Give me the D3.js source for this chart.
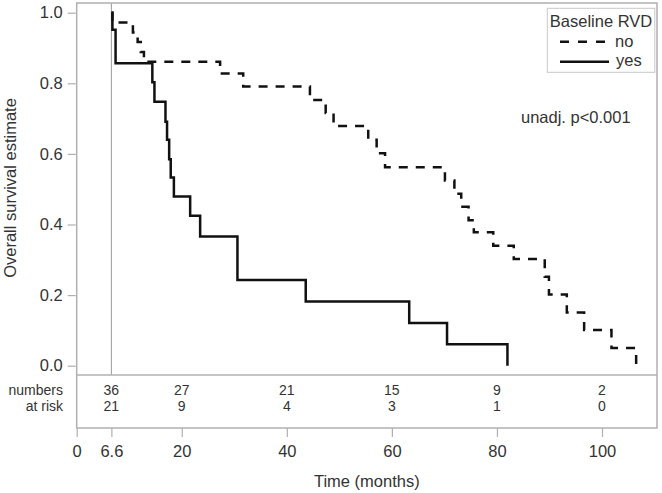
<!DOCTYPE html>
<html>
<head>
<meta charset="utf-8">
<script src="https://cdn.jsdelivr.net/npm/d3@7"></script>
<style>
  html, body { margin: 0; padding: 0; background: #fff; }
  svg { display: block; }
  text { font-family: "Liberation Sans", Arial, sans-serif; fill: #333; }
</style>
</head>
<body>
<script>
// ---- Data ----
const groups = ["no", "yes"];
const noTimes = [6.6, 6.8, 10.7, 11.6, 12.2, 12.8, 27.3, 31.7, 44.4, 47.4, 48.9, 55.5, 57.1, 58.7, 70.1, 71.9, 73.2, 74.6, 75.6, 79.3, 83.2, 89.1, 89.9, 93.3, 96.6, 101.8, 106.5];
const noSurv  = [1.0, 0.972, 0.944, 0.917, 0.889, 0.861, 0.828, 0.791, 0.753, 0.716, 0.679, 0.640, 0.602, 0.562, 0.525, 0.487, 0.450, 0.412, 0.378, 0.340, 0.302, 0.252, 0.202, 0.151, 0.101, 0.050, 0.0];
const yesTimes = [6.6, 6.8, 7.4, 14.4, 14.8, 16.9, 17.2, 17.6, 17.9, 18.5, 21.6, 23.5, 30.6, 43.6, 63.3, 70.5, 82.0];
const yesSurv  = [1.0, 0.952, 0.857, 0.803, 0.748, 0.691, 0.640, 0.585, 0.533, 0.479, 0.425, 0.366, 0.243, 0.182, 0.121, 0.061, 0.0];
const riskTimes = [6.6, 20, 40, 60, 80, 100];
const riskNo  = [36, 27, 21, 15, 9, 2];
const riskYes = [21, 9, 4, 3, 1, 0];
const xTicks = [0, 6.6, 20, 40, 60, 80, 100];
const yTicks = [0, 0.2, 0.4, 0.6, 0.8, 1.0];
const landmark = 6.6;

(function () {
// ---- Layout ----
const W = 662, H = 493;
const pLeft = 76.7, pRight = 657, pTop = 3, mainBottom = 375, riskBottom = 428;

const svg = d3.select("body").append("svg").attr("width", W).attr("height", H);

const x = d3.scaleLinear().domain([0, 110.5]).range([pLeft, pLeft + 5.253 * 110.5]);
const y = d3.scaleLinear().domain([0, 1]).range([365.7, 12.7]);

const frameColor = "#b0b0b0";

// reference line at landmark
svg.append("line")
  .attr("x1", x(landmark)).attr("x2", x(landmark))
  .attr("y1", pTop).attr("y2", mainBottom)
  .attr("stroke", "#9a9a9a").attr("stroke-width", 1);

// curves
const line = d3.line()
  .x(d => x(d[0])).y(d => y(d[1]))
  .curve(d3.curveStepAfter);

const noData = noTimes.map((t, i) => [t, noSurv[i]]);
const yesData = yesTimes.map((t, i) => [t, yesSurv[i]]);

svg.append("path").datum(yesData)
  .attr("d", line).attr("fill", "none")
  .attr("stroke", "#111").attr("stroke-width", 2.5);

svg.append("path").datum(noData)
  .attr("d", line).attr("fill", "none")
  .attr("stroke", "#111").attr("stroke-width", 2.5)
  .attr("stroke-dasharray", "9,8");

// frame
svg.append("rect")
  .attr("x", pLeft).attr("y", pTop)
  .attr("width", pRight - pLeft).attr("height", riskBottom - pTop)
  .attr("fill", "none").attr("stroke", frameColor).attr("stroke-width", 1.5);
svg.append("line")
  .attr("x1", pLeft).attr("x2", pRight)
  .attr("y1", mainBottom).attr("y2", mainBottom)
  .attr("stroke", frameColor).attr("stroke-width", 1.5);

// y axis
const yAxis = d3.axisLeft(y).tickValues(yTicks).tickFormat(d3.format(".1f")).tickSize(8).tickPadding(5);
const gy = svg.append("g").attr("transform", `translate(${pLeft - 1},0)`).call(yAxis);
gy.select(".domain").remove();
gy.selectAll(".tick line").attr("stroke", frameColor).attr("stroke-width", 1.2);
gy.selectAll(".tick text").attr("font-size", "16.5px").attr("fill", "#333")
  .attr("font-family", '"Liberation Sans", Arial, sans-serif');

// x axis
const xAxis = d3.axisBottom(x).tickValues(xTicks)
  .tickFormat(d => d === landmark ? "6.6" : d3.format("d")(d)).tickSize(9).tickPadding(8);
const gx = svg.append("g").attr("transform", `translate(0,${riskBottom})`).call(xAxis);
gx.select(".domain").remove();
gx.selectAll(".tick line").attr("stroke", frameColor).attr("stroke-width", 1.2);
gx.selectAll(".tick text").attr("font-size", "16.5px").attr("fill", "#333")
  .attr("font-family", '"Liberation Sans", Arial, sans-serif');

// axis titles
svg.append("text")
  .attr("x", (pLeft + pRight) / 2).attr("y", 487)
  .attr("text-anchor", "middle").attr("font-size", "16.5px")
  .text("Time (months)");
svg.append("text")
  .attr("transform", "translate(16,188) rotate(-90)")
  .attr("text-anchor", "middle").attr("font-size", "16.5px")
  .text("Overall survival estimate");

// at-risk table
svg.append("text").attr("x", 63).attr("y", 395).attr("text-anchor", "end")
  .attr("font-size", "14px").text("numbers");
svg.append("text").attr("x", 63).attr("y", 411).attr("text-anchor", "end")
  .attr("font-size", "14px").text("at risk");
svg.append("g").selectAll("text").data(riskTimes).join("text")
  .attr("x", d => x(d)).attr("y", 395).attr("text-anchor", "middle")
  .attr("font-size", "14px").text((d, i) => riskNo[i]);
svg.append("g").selectAll("text").data(riskTimes).join("text")
  .attr("x", d => x(d)).attr("y", 411).attr("text-anchor", "middle")
  .attr("font-size", "14px").text((d, i) => riskYes[i]);

// legend
const lg = svg.append("g");
lg.append("rect").attr("x", 547.3).attr("y", 8.3).attr("width", 107.5).attr("height", 64)
  .attr("fill", "#fff").attr("stroke", "#c8c8c8").attr("stroke-width", 1);
lg.append("text").attr("x", 601).attr("y", 27).attr("text-anchor", "middle")
  .attr("font-size", "16.5px").text("Baseline RVD");
lg.append("line").attr("x1", 560).attr("x2", 606).attr("y1", 41.7).attr("y2", 41.7)
  .attr("stroke", "#111").attr("stroke-width", 2.5).attr("stroke-dasharray", "9,9");
lg.append("text").attr("x", 615).attr("y", 47).attr("font-size", "16.5px").text(groups[0]);
lg.append("line").attr("x1", 560).attr("x2", 609).attr("y1", 61.7).attr("y2", 61.7)
  .attr("stroke", "#111").attr("stroke-width", 2.5);
lg.append("text").attr("x", 616).attr("y", 66).attr("font-size", "16.5px").text(groups[1]);

// p-value
svg.append("text").attr("x", 521).attr("y", 123).attr("font-size", "16.5px")
  .text("unadj. p<0.001");
})();
</script>
</body>
</html>
